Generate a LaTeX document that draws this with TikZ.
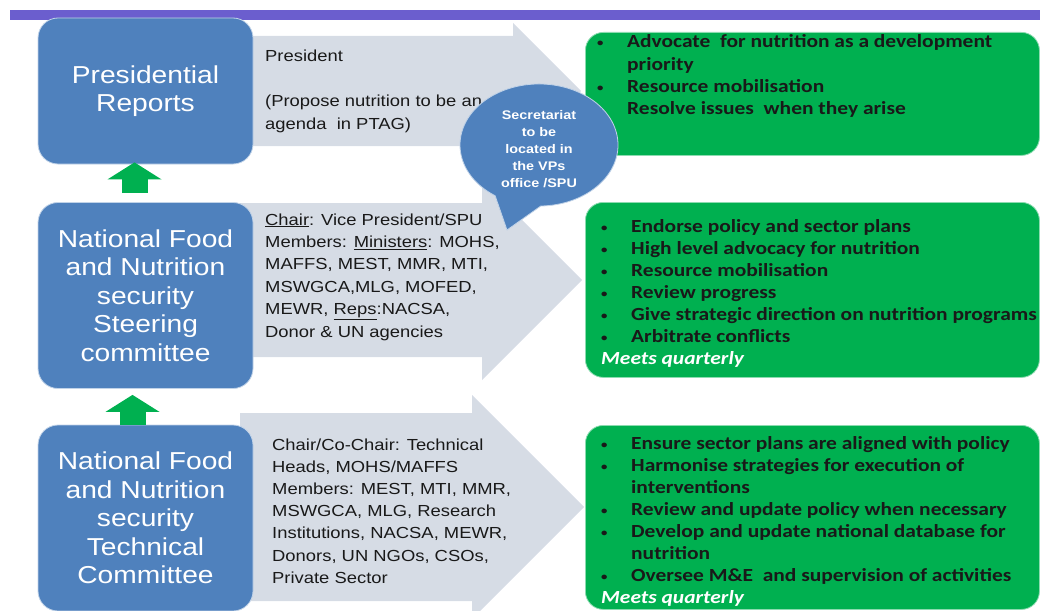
\documentclass[tikz,border=0pt]{standalone}
\usepackage{fontspec}
\setmainfont[FakeStretch=1.15]{Liberation Sans}
\newfontfamily\grnfont[FakeStretch=1.16]{Carlito}
\usetikzlibrary{shapes.callouts,arrows.meta}
\definecolor{barpurple}{RGB}{107,94,206}
\definecolor{boxblue}{RGB}{79,129,189}
\definecolor{arrowgray}{RGB}{214,220,229}
\definecolor{boxgreen}{RGB}{0,176,80}
\definecolor{txtdark}{RGB}{25,25,25}
\newcommand\bitem{\makebox[30pt][l]{\raisebox{1pt}{\fontsize{11}{11}\selectfont\textbullet}}}
\newcommand\bindent{\hspace*{30pt}}
\begin{document}
\begin{tikzpicture}[x=1pt,y=-1pt,
  bluebox/.style={draw=white!65!boxblue, line width=0.8pt, fill=boxblue,
    rounded corners=20pt, inner sep=0pt, text=white, align=center,
    font=\fontsize{24.5}{28.5}\selectfont, minimum width=215pt},
  greenbox/.style={draw=white!55!boxgreen, line width=0.8pt, fill=boxgreen,
    rounded corners=18pt, minimum width=454pt, anchor=north west, inner sep=0pt},
  grayarrow/.style={fill=arrowgray},
  graytxt/.style={anchor=base west, inner sep=0pt, text=txtdark,
    font=\fontsize{16}{22.4}\selectfont},
  grntxt/.style={anchor=base west, inner sep=0pt, text=txtdark,
    font=\grnfont\bfseries\fontsize{18.5}{22.1}\selectfont},
  uparrow/.style={draw=boxgreen, line width=26pt,
    -{Triangle[width=54pt,length=17pt,line width=0pt]}}
]
\useasboundingbox (0,0) rectangle (1040,610);
\clip (0,0) rectangle (1040,610);

% top bar
\fill[barpurple] (10,10) rectangle (1040,20);

% gray arrows
\fill[grayarrow] (240,36) -- (513,36) -- (513,23) -- (581,91) -- (513,159) -- (513,146) -- (240,146) -- cycle;
\fill[grayarrow] (240,203) -- (482,203) -- (482,180) -- (582,280) -- (482,380) -- (482,357) -- (240,357) -- cycle;
\fill[grayarrow] (240,413) -- (472,413) -- (472,395) -- (584,507) -- (472,619) -- (472,601) -- (240,601) -- cycle;

% blue boxes
\node[bluebox, minimum height=146pt] (b1) at (145.5,91) {Presidential\\Reports};
\node[bluebox, minimum height=186pt] (b2) at (145.5,295.5) {National Food\\and Nutrition\\security\\Steering\\committee};
\node[bluebox, minimum height=186pt] (b3) at (145.5,518) {National Food\\and Nutrition\\security\\Technical\\Committee};

% green up arrows
\draw[uparrow] ([xshift=-11pt,yshift=9pt]b2.north) -- ([xshift=-11pt,yshift=2pt]b1.south);
\draw[uparrow] ([xshift=-13pt]b3.north) -- ([xshift=-13pt,yshift=-6pt]b2.south);

% green boxes
\node[greenbox, minimum height=123pt] (g1) at (585,32) {};
\node[greenbox, minimum height=175pt] (g2) at (585,202) {};
\node[greenbox, minimum height=184pt] (g3) at (585,425) {};

% gray arrow texts
\node[graytxt] (t1) at (265,62) {\parbox[t]{320pt}{President\\\mbox{}\\(Propose nutrition to be an\\agenda\ \ in PTAG)}};
\node[graytxt] (t2) at (265,225) {\parbox[t]{320pt}{\underline{Chair}: Vice President/SPU\\
Members: \underline{Ministers}: MOHS,\\
MAFFS, MEST, MMR, MTI,\\
MSWGCA,MLG, MOFED,\\
MEWR, \underline{Reps}:NACSA,\\
Donor \& UN agencies}};
\node[graytxt, font=\fontsize{16}{22.2}\selectfont] (t3) at (272,450) {\parbox[t]{320pt}{Chair/Co-Chair: Technical\\
Heads, MOHS/MAFFS\\
Members: MEST, MTI, MMR,\\
MSWGCA, MLG, Research\\
Institutions, NACSA, MEWR,\\
Donors, UN NGOs, CSOs,\\
Private Sector}};

% green texts
\node[grntxt] (gt1) at (597,48) {\parbox[t]{600pt}{\bitem Advocate\ \ for nutrition as a development\\
\bindent priority\\
\bitem Resource mobilisation\\
\bindent Resolve issues\ \ when they arise}};
\node[grntxt] (gt2) at (601,232) {\parbox[t]{600pt}{\bitem Endorse policy and sector plans\\
\bitem High level advocacy for nutrition\\
\bitem Resource mobilisation\\
\bitem Review progress\\
\bitem Give strategic direction on nutrition programs\\
\bitem Arbitrate conflicts\\
{\color{white}\itshape Meets quarterly}}};
\node[grntxt] (gt3) at (601,449) {\parbox[t]{600pt}{\bitem Ensure sector plans are aligned with policy\\
\bitem Harmonise strategies for execution of\\
\bindent interventions\\
\bitem Review and update policy when necessary\\
\bitem Develop and update national database for\\
\bindent nutrition\\
\bitem Oversee M\&E\ \ and supervision of activities\\
{\color{white}\itshape Meets quarterly}}};

% secretariat callout
\node[ellipse callout, callout absolute pointer={(507,230)}, callout pointer arc=35,
  minimum width=158pt, minimum height=118pt, inner sep=0pt,
  fill=boxblue, draw=white!65!boxblue, line width=0.8pt, text=white, align=center,
  font=\bfseries\fontsize{12.5}{17}\selectfont] (sec) at (539,145)
  {\parbox{90pt}{\centering\vspace*{9pt}Secretariat\\to be\\located in\\the VPs\\office /SPU}};
\end{tikzpicture}
\end{document}
